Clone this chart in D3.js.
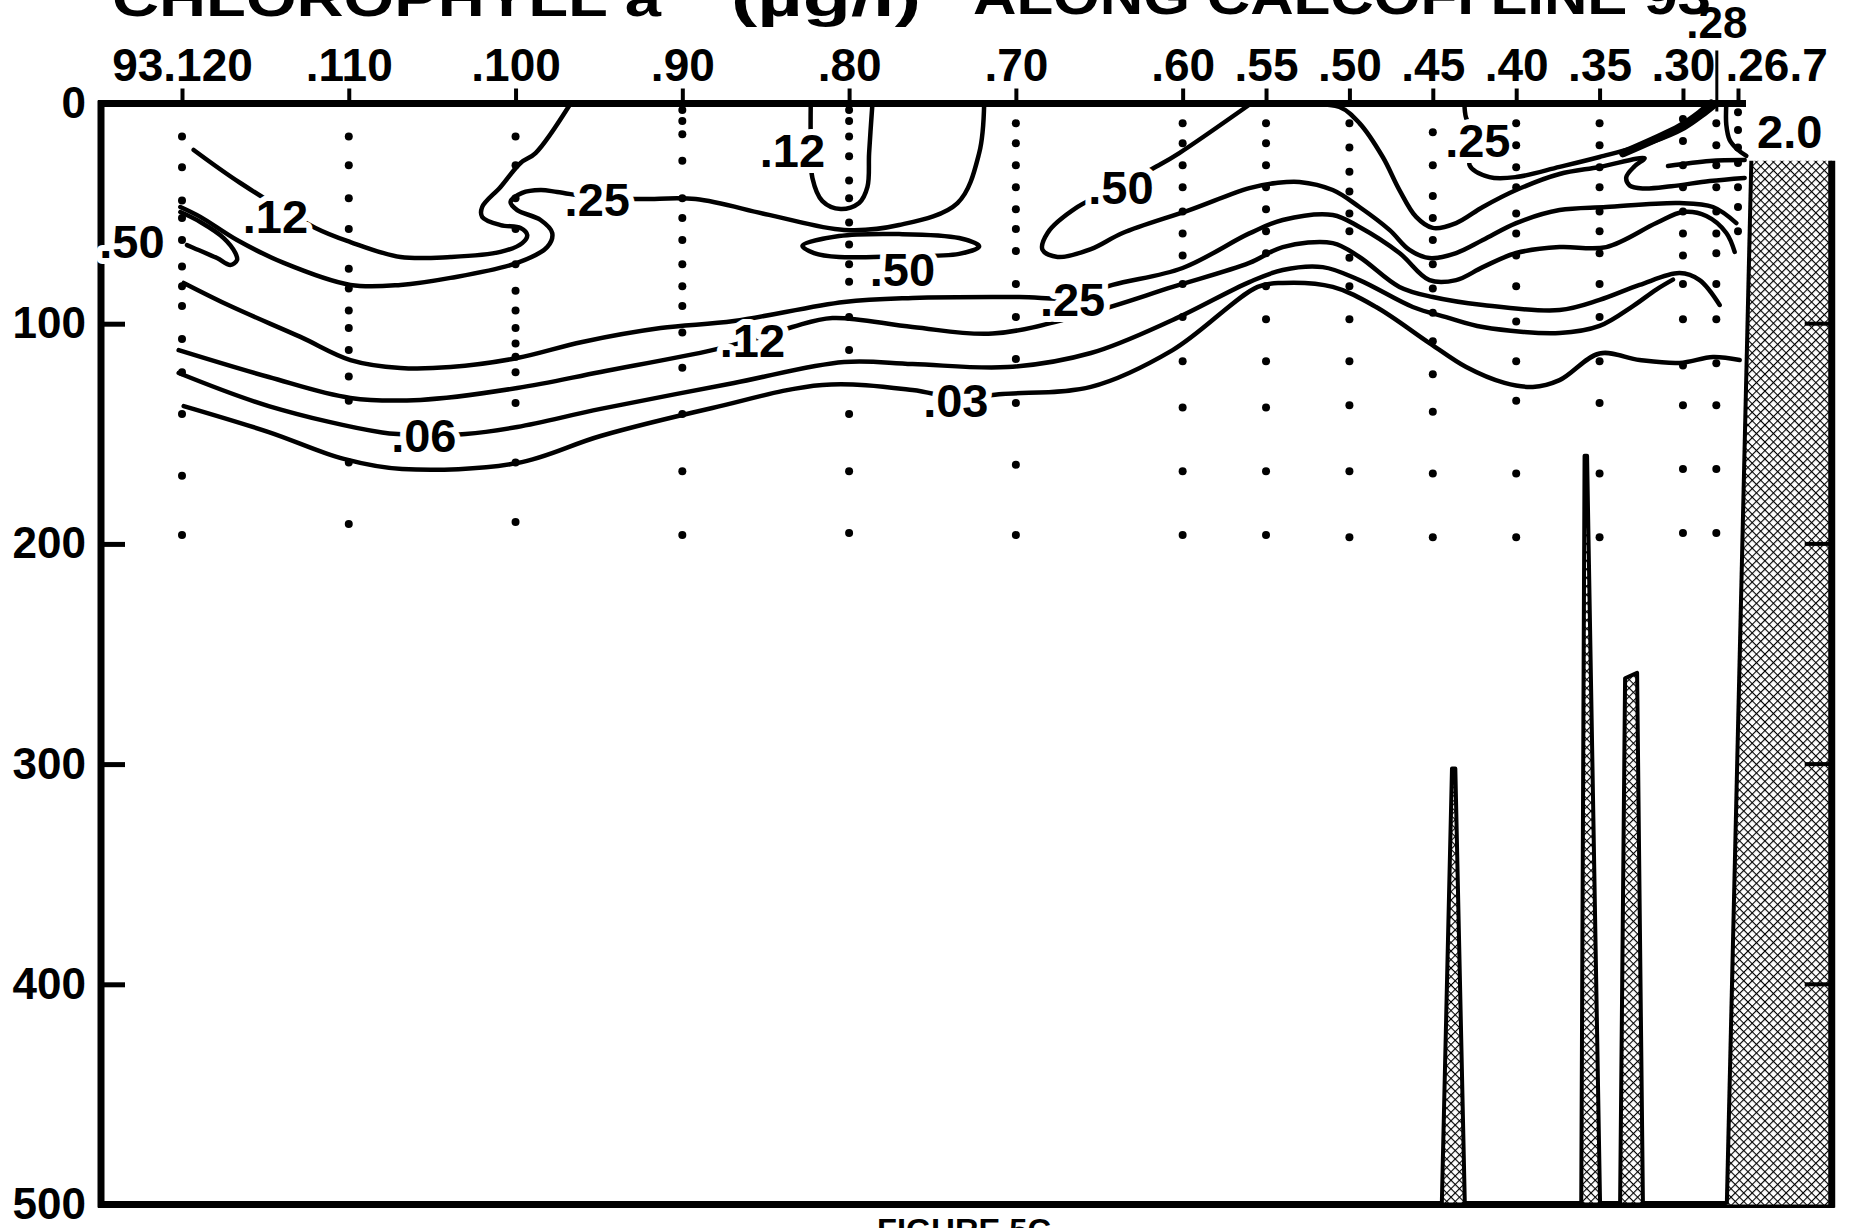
<!DOCTYPE html>
<html>
<head>
<meta charset="utf-8">
<script src="https://cdn.jsdelivr.net/npm/d3@7"></script>
<style>
  body { margin: 0; background: #fff; }
  svg { display: block; }
  text { font-family: "Liberation Sans", Arial, Helvetica, sans-serif; font-weight: bold; fill: #000; }
</style>
</head>
<body>
<svg width="1851" height="1228"></svg>
<script>
// stations along the line and their tick labels
const stations = [120, 110, 100, 90, 80, 70, 60, 55, 50, 45, 40, 35, 30, 28, 26.7];
const stationLabels = ["93.120", ".110", ".100", ".90", ".80", ".70", ".60", ".55", ".50", ".45", ".40", ".35", ".30", ".28", ".26.7"];
const depthTicks = [0, 100, 200, 300, 400, 500];

// bottle depths (m) sampled at each station
const sampleDepths = [
  [15, 29, 44, 52, 62, 74, 83, 92, 107, 122, 141, 169, 196],
  [15, 28, 43, 57, 75, 84, 94, 102, 112, 124, 135, 163, 191],
  [15, 28, 43, 57, 73, 85, 94, 102, 109, 115, 122, 136, 163, 190],
  [3, 8, 14, 26, 43, 52, 62, 73, 83, 92, 104, 120, 141, 167, 196],
  [3, 8, 15, 24, 35, 43, 54, 64, 73, 81, 97, 112, 141, 167, 195],
  [9, 18, 28, 38, 48, 57, 67, 82, 97, 116, 136, 164, 196],
  [9, 18, 28, 38, 49, 59, 69, 82, 97, 117, 138, 167, 196],
  [9, 18, 28, 38, 48, 58, 68, 83, 98, 117, 138, 167, 196],
  [9, 20, 31, 40, 50, 58, 70, 83, 98, 117, 137, 167, 197],
  [13, 28, 42, 52, 62, 73, 84, 95, 108, 123, 140, 168, 197],
  [9, 19, 29, 38, 50, 59, 69, 83, 99, 117, 135, 168, 197],
  [9, 19, 29, 38, 49, 58, 68, 82, 97, 117, 136, 168, 197],
  [7, 17, 28, 38, 49, 59, 69, 82, 98, 119, 137, 166, 195],
  [9, 19, 28, 38, 49, 59, 68, 82, 98, 118, 137, 166, 195],
  [4, 12, 20, 27, 38, 47, 58]
];

// contour lines as [station, depth]
const c12a = [[119.3,21.1],[116.5,36.1],[112.0,56.5],[109.9,62.9],[106.9,69.7],[103.9,69.7],[100.9,67.4],[99.6,63.4],[99.3,59.7],[99.7,56.5],[100.9,55.2],[102.0,51.5],[102.0,47.0],[100.9,37.9],[99.7,27.0],[98.8,22.5],[96.7,0]];
const c25a = [[120.1,47.0],[118.9,51.5],[116.7,62.0],[113.9,72.4],[109.9,82.4],[106.9,82.4],[103.9,79.2],[99.9,72.4],[98.1,65.2],[97.8,58.8],[98.5,52.9],[99.9,48.4],[100.3,44.7],[99.6,40.6],[98.5,39.3],[97.5,40.2],[95.1,42.9],[92.5,43.4],[89.2,43.4],[84.8,50.6],[80.3,57.4],[77.0,55.2],[73.5,45.2],[72.2,22.5],[71.9,0]];
const c50a = [[120.1,49.3],[118.9,53.8],[117.5,61.1],[116.8,67.9],[116.7,71.1],[117.1,73.3],[117.9,70.2],[119.3,65.6],[119.7,64.3]];
const c25b = [[119.9,81.5],[117.1,92.0],[112.9,106.0],[109.9,116.5],[106.9,120.1],[103.9,119.7],[99.9,115.6],[96.0,108.3],[91.3,102.0],[86.9,98.8],[80.3,90.1],[76.2,88.3],[69.8,87.9],[66.6,88.3],[64.2,82.4],[60.0,74.7],[56.0,59.0],[54.0,52.9],[51.0,50.6],[49.4,56.1],[47.0,67.9],[45.2,80.2],[43.6,80.2],[42.0,74.3],[40.0,67.9],[37.4,65.2],[34.6,65.2],[31.6,54.3],[30.0,49.3],[28.6,51.1],[27.4,58.8],[26.9,67.4]];
const c12b = [[120.2,112.0],[114.8,124.2],[109.9,133.7],[105.7,134.6],[99.9,129.2],[94.9,121.9],[88.2,112.0],[85.7,106.9],[83.4,101.5],[81.0,97.4],[76.2,101.5],[71.4,104.5],[65.6,95.1],[60.6,83.3],[56.0,72.4],[54.0,65.2],[51.0,63.4],[49.4,69.7],[47.0,83.3],[45.0,87.9],[42.0,91.5],[37.4,93.8],[35.0,89.2],[32.6,82.4],[30.2,77.0],[29.0,80.2],[27.8,91.5]];
const c06 = [[120.2,122.4],[114.8,137.4],[108.0,149.4],[105.6,150.5],[103.0,150.1],[99.9,146.9],[94.9,138.7],[86.9,126.9],[80.3,117.4],[76.2,118.3],[70.5,119.7],[65.5,113.3],[60.6,98.3],[56.0,81.1],[54.0,75.6],[51.6,74.3],[49.4,80.2],[46.2,92.4],[44.2,97.0],[42.0,101.5],[37.4,104.2],[35.0,101.0],[33.0,92.0],[31.6,84.5],[30.6,80.0]];
const c03 = [[119.9,137.4],[114.8,149.2],[110.3,161.4],[106.8,166.0],[99.9,163.3],[94.9,151.0],[88.2,138.3],[81.6,127.8],[76.2,130.1],[73.5,133.7],[70.8,131.9],[65.5,128.7],[60.6,112.0],[55.5,83.3],[54.0,81.5],[51.0,83.3],[48.4,92.4],[45.2,108.8],[43.0,119.7],[40.7,126.9],[39.0,128.7],[37.4,125.6],[35.0,113.5],[32.6,116.5],[30.2,117.8],[28.2,115.1],[26.6,116.5]];
const c12u = [[82.3,0],[82.3,16.6],[82.2,33.8],[81.6,44.3],[80.5,47.9],[79.4,45.2],[78.9,37.9],[78.8,22.5],[78.6,0]];
const c50e = [[82.8,64.7],[80.6,60.2],[77.0,59.3],[73.4,61.1],[72.2,64.9],[73.4,68.3],[77.0,69.3],[80.6,69.7],[82.1,67.9]];
const c50b = [[55.9,0],[60.2,22.5],[61.4,27.9],[63.9,37.9],[66.3,47.0],[68.1,58.8],[68.4,66.5],[67.5,69.7],[65.5,66.1],[63.6,58.8],[59.6,48.4],[56.0,38.4],[54.4,36.1],[53.0,35.6],[51.0,39.3],[49.4,47.0],[47.6,57.4],[46.4,66.5],[45.2,70.2],[43.6,67.9],[42.0,62.0],[40.0,54.3],[37.4,48.4],[34.6,47.0],[30.2,45.2],[28.2,47.0],[26.8,54.3]];
const cUpper = [[53.0,0],[50.6,1.6],[49.4,8.9],[48.0,24.3],[47.0,39.3],[46.0,51.5],[45.0,56.5],[43.6,54.3],[42.0,47.0],[40.0,39.3],[37.4,32.0],[35.0,28.8],[32.3,24.8],[32.9,28.5],[33.4,33.5],[33.2,37.2],[32.4,38.6],[30.7,37.6],[28.4,35.2],[26.3,33.8]];
const c25c = [[43.1,0],[43.0,6.6],[42.3,16.6],[42.8,27.9],[41.6,33.4],[40.0,33.4],[37.4,28.8],[35.0,24.3],[32.0,17.9],[29.9,11.1],[28.7,4.8],[27.9,0]];
const cWedge = [[33.6,22.6],[31.8,16.6],[30.2,10.8],[29.0,4.6],[28.3,0]];
const cSide = [[30.9,28.4],[28.4,26.1],[26.3,25.7]];
const c20 = [[27.4,0],[27.4,9.8],[27.2,16.6],[26.7,21.1],[26.2,23.8]];

// contour labels: text, station, depth
const contourLabels = [
  [".12", 114.4, 51.1], [".25", 95.1, 43.5], [".50", 123.0, 62.4],
  [".12", 83.4, 21.2], [".50", 76.8, 75.0], [".50", 63.7, 37.9],
  [".25", 66.6, 88.8], [".12", 85.8, 107.5], [".03", 73.6, 134.5],
  [".06", 105.5, 150.5], [".25", 42.3, 16.8], ["2.0", 23.6, 12.5]
];

// bottom profile (banks and shelf) as [station, depth]
const bank1 = [[44.46,500],[43.85,302],[43.65,302],[43.08,500]];
const bank2 = [[36.1,500],[35.9,160],[35.75,160],[34.97,500]];
const bank3 = [[33.77,500],[33.47,261],[32.75,258.5],[32.4,500]];
const shelf = [[25.9,26],[21.08,26],[21.08,500],[27.37,500]];

const svg = d3.select("svg");
const FONT = '"Liberation Sans", Arial, Helvetica, sans-serif';

const x = d3.scaleLinear().domain([120, 26.7]).range([182, 1738]);
const y = d3.scaleLinear().domain([0, 500]).range([103.5, 1204.5]);
const frameLeft = 101;

// stipple pattern for the bottom
const pat = svg.append("defs").append("pattern")
    .attr("id", "stipple")
    .attr("patternUnits", "userSpaceOnUse")
    .attr("width", 6).attr("height", 6)
    .attr("patternTransform", "rotate(45)");
pat.append("rect").attr("width", 6).attr("height", 6).attr("fill", "#fff");
pat.append("rect").attr("width", 6).attr("height", 1.1).attr("fill", "#000");
pat.append("rect").attr("width", 1.1).attr("height", 6).attr("fill", "#000");

// title (cut off at the top of the page) and figure caption
svg.append("text").attr("x", 112).attr("y", 16).attr("font-size", 52)
    .attr("textLength", 549).attr("lengthAdjust", "spacingAndGlyphs").text("CHLOROPHYLL a");
svg.append("text").attr("x", 731).attr("y", 16).attr("font-size", 52)
    .attr("textLength", 190).attr("lengthAdjust", "spacingAndGlyphs").text("(µg/l)");
svg.append("text").attr("x", 973).attr("y", 14).attr("font-size", 52)
    .attr("textLength", 738).attr("lengthAdjust", "spacingAndGlyphs").text("ALONG CALCOFI LINE 93");
svg.append("text").attr("x", 877).attr("y", 1241).attr("font-size", 32)
    .attr("textLength", 174).attr("lengthAdjust", "spacingAndGlyphs").text("FIGURE 5C");

// frame
const frame = svg.append("g").attr("stroke", "#000").attr("stroke-width", 7);
frame.append("line").attr("x1", frameLeft - 3).attr("x2", x(26.7) + 8).attr("y1", y(0)).attr("y2", y(0));
frame.append("line").attr("x1", frameLeft).attr("x2", frameLeft).attr("y1", y(0) - 3).attr("y2", y(500) + 3);
frame.append("line").attr("x1", frameLeft - 3).attr("x2", x(21.08) + 3).attr("y1", y(500)).attr("y2", y(500));

// top axis: stations
const gTop = svg.append("g")
    .attr("transform", `translate(0,${y(0)})`)
    .call(d3.axisTop(x).tickValues(stations).tickSize(15).tickPadding(8)
        .tickFormat((d, i) => stationLabels[i]));
gTop.attr("font-family", FONT).attr("font-size", 46).attr("font-weight", "bold");
gTop.select(".domain").remove();
gTop.selectAll(".tick line").attr("stroke-width", 4);
gTop.selectAll(".tick").filter(d => d === 28).each(function () {
    d3.select(this).select("line").attr("y1", 8).attr("y2", -53).attr("stroke-width", 3);
    d3.select(this).select("text").attr("y", -66).attr("font-size", 44);
});
gTop.selectAll(".tick").filter(d => d === 26.7).select("text")
    .attr("text-anchor", "start").attr("x", -13);

// left axis: depth
const gLeft = svg.append("g")
    .attr("transform", `translate(${frameLeft},0)`)
    .call(d3.axisLeft(y).tickValues(depthTicks).tickSize(-24).tickPadding(15));
gLeft.attr("font-family", FONT).attr("font-size", 44).attr("font-weight", "bold");
gLeft.select(".domain").remove();
gLeft.selectAll(".tick line").attr("stroke-width", 5)
    .attr("display", d => (d === 0 || d === 500) ? "none" : null);

// contours
const line = d3.line()
    .x(d => x(d[0]))
    .y(d => y(d[1]))
    .curve(d3.curveCatmullRom.alpha(0.5));

const openContours = [c12a, c25a, c50a, c25b, c12b, c06, c03, c12u, c50b, cUpper, c25c, cSide, c20];

svg.append("g")
    .attr("fill", "none").attr("stroke", "#000").attr("stroke-width", 4.5)
    .attr("stroke-linecap", "round").attr("stroke-linejoin", "round")
    .selectAll("path")
    .data(openContours)
    .join("path")
    .attr("d", line);

svg.append("path")
    .attr("d", line(cWedge))
    .attr("fill", "none").attr("stroke", "#000").attr("stroke-width", 8).attr("stroke-linecap", "round");

svg.append("path")
    .attr("d", line.curve(d3.curveCatmullRomClosed.alpha(0.5))(c50e))
    .attr("fill", "none").attr("stroke", "#000").attr("stroke-width", 4.5);

// contour labels (white halo breaks the line)
svg.append("g")
    .selectAll("text")
    .data(contourLabels)
    .join("text")
    .attr("x", d => x(d[1]))
    .attr("y", d => y(d[2]))
    .attr("dy", "0.36em")
    .attr("text-anchor", "middle")
    .attr("font-size", 47)
    .attr("stroke", "#fff").attr("stroke-width", 12).attr("stroke-linejoin", "round")
    .attr("paint-order", "stroke")
    .text(d => d[0]);

// sample dots
const samples = stations.flatMap((s, i) => sampleDepths[i].map(d => [s, d]));
svg.append("g")
    .selectAll("circle")
    .data(samples)
    .join("circle")
    .attr("cx", d => x(d[0]))
    .attr("cy", d => y(d[1]))
    .attr("r", 4)
    .attr("fill", "#000");

// bottom: banks and shelf
const poly = d3.line().x(d => x(d[0])).y(d => y(d[1])).curve(d3.curveLinearClosed);

svg.append("g")
    .selectAll("path")
    .data([bank1, bank2, bank3])
    .join("path")
    .attr("d", poly)
    .attr("fill", "url(#stipple)")
    .attr("stroke", "#000").attr("stroke-width", 4).attr("stroke-linejoin", "round");

svg.append("path").attr("d", poly(shelf)).attr("fill", "url(#stipple)");
svg.append("line")
    .attr("x1", x(shelf[0][0])).attr("y1", y(shelf[0][1]))
    .attr("x2", x(shelf[3][0])).attr("y2", y(shelf[3][1]))
    .attr("stroke", "#000").attr("stroke-width", 4);
svg.append("line")
    .attr("x1", x(shelf[1][0])).attr("y1", y(shelf[1][1]))
    .attr("x2", x(shelf[2][0])).attr("y2", y(shelf[2][1]) + 3)
    .attr("stroke", "#000").attr("stroke-width", 7);

// small depth ticks on the right edge
svg.append("g")
    .selectAll("line")
    .data(depthTicks.slice(1, 5))
    .join("line")
    .attr("x1", x(21.08) - 27).attr("x2", x(21.08))
    .attr("y1", d => y(d)).attr("y2", d => y(d))
    .attr("stroke", "#000").attr("stroke-width", 4);
</script>
</body>
</html>
